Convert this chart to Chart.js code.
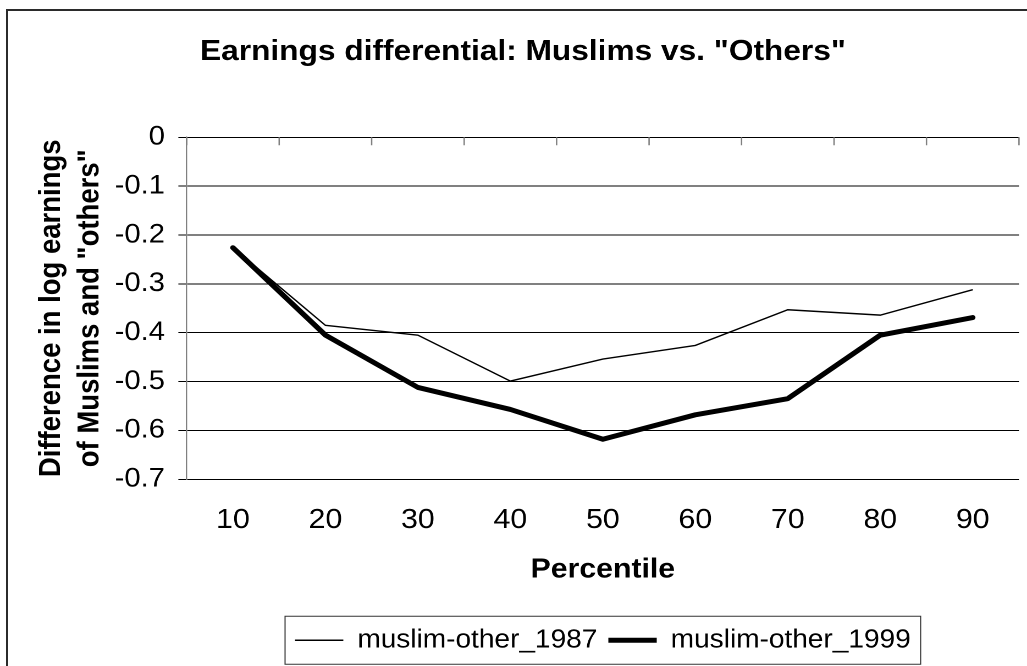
<!DOCTYPE html>
<html>
<head>
<meta charset="utf-8">
<script src="https://cdn.jsdelivr.net/npm/chart.js@4.4.1/dist/chart.umd.min.js"></script>
<style>
    html, body { margin: 0; padding: 0; background: #fff; overflow: hidden; }
    /* the original sheet is cut off on the right and at the bottom, only the top/left edge shows */
    #frame { position: absolute; left: 6px; top: 9px; width: 1100px; height: 700px;
             border-left: 2px solid #2b2b2b; border-top: 2px solid #2b2b2b; }
    #earnChart { position: absolute; left: 0; top: 0; }
</style>
</head>
<body>
<div id="frame"></div>
<!-- the reference is a bit wider than tall, so the canvas is drawn narrow and stretched -->
<canvas id="earnChart" width="934" height="666" style="width:1027px;height:666px"></canvas>
<script>
const percentiles = ['10', '20', '30', '40', '50', '60', '70', '80', '90'];
const muslimOther1987 = [-0.226, -0.385, -0.405, -0.499, -0.454, -0.426, -0.353, -0.364, -0.312];
const muslimOther1999 = [-0.226, -0.405, -0.512, -0.557, -0.618, -0.568, -0.535, -0.405, -0.369];
const yTicks = [0, -0.1, -0.2, -0.3, -0.4, -0.5, -0.6, -0.7];

const FONT = 'Arial, "Liberation Sans", sans-serif';

// Excel-style tick marks hanging down from the top axis, between categories
const topTicks = {
    id: 'topTicks',
    beforeDatasetsDraw(chart) {
        const { ctx, chartArea, scales: { x } } = chart;
        ctx.save();
        ctx.strokeStyle = '#808080';
        ctx.lineWidth = 1.3;
        for (let i = 0; i <= percentiles.length; i++) {
            const px = x.getPixelForValue(i - 0.5);
            ctx.beginPath();
            ctx.moveTo(px, chartArea.top);
            ctx.lineTo(px, chartArea.top + 8);
            ctx.stroke();
        }
        ctx.restore();
    }
};

// box around the legend
const legendFrame = {
    id: 'legendFrame',
    afterDraw(chart) {
        const boxes = chart.legend.legendHitBoxes;
        if (!boxes || !boxes.length) return;
        const ctx = chart.ctx;
        const left = Math.min(...boxes.map(b => b.left)) - 9;
        const right = Math.max(...boxes.map(b => b.left + b.width)) + 9;
        const mid = boxes[0].top + boxes[0].height / 2;
        ctx.save();
        ctx.strokeStyle = '#333';
        ctx.lineWidth = 1;
        ctx.strokeRect(left, mid - 24, right - left, 48);
        ctx.restore();
    }
};

new Chart(document.getElementById('earnChart'), {
    type: 'line',
    data: {
        labels: percentiles,
        datasets: [{
            label: 'muslim-other_1987',
            data: muslimOther1987,
            borderColor: '#000',
            backgroundColor: '#000',
            borderWidth: 1.4,
            pointRadius: 0,
            tension: 0,
            fill: false
        }, {
            label: 'muslim-other_1999',
            data: muslimOther1999,
            borderColor: '#000',
            backgroundColor: '#000',
            borderWidth: 5,
            borderCapStyle: 'round',
            borderJoinStyle: 'round',
            pointRadius: 0,
            tension: 0,
            fill: false
        }]
    },
    options: {
        responsive: false,
        devicePixelRatio: 2,
        animation: false,
        events: [],
        layout: { padding: { top: 10, left: 24.5, right: 7.3, bottom: 3.5 } },
        scales: {
            x: {
                offset: true,
                afterFit: s => { s.height = 138.2; },
                grid: { display: false },
                border: { display: false },
                ticks: { color: '#000', font: { family: FONT, size: 27.5 }, padding: 16.5, maxRotation: 0, autoSkip: false },
                title: {
                    display: true,
                    text: 'Percentile',
                    color: '#000',
                    font: { family: FONT, size: 27.5, weight: 'bold' },
                    padding: { top: 17.3, bottom: 31 }
                }
            },
            y: {
                min: -0.7,
                max: 0,
                afterBuildTicks: s => { s.ticks = yTicks.map(v => ({ value: v })); },
                afterFit: s => { s.width = 145.3; },
                grid: { color: '#000', lineWidth: 1, tickLength: 7.6, tickColor: '#000' },
                border: { color: '#808080', width: 1.2 },
                ticks: {
                    color: '#000',
                    font: { family: FONT, size: 26.5 },
                    padding: 12.2,
                    callback: v => String(v)
                },
                title: {
                    display: true,
                    text: ['Difference in log earnings', 'of Muslims and "others"'],
                    color: '#000',
                    font: { family: FONT, size: 27.5, weight: 'bold', lineHeight: 1.27 },
                    padding: { top: 4.8, bottom: 0 }
                }
            }
        },
        plugins: {
            title: {
                display: true,
                text: 'Earnings differential: Muslims vs. "Others"',
                color: '#000',
                font: { family: FONT, size: 28.8, weight: 'bold' },
                padding: { top: 25, bottom: 67.7 }
            },
            legend: {
                position: 'bottom',
                fullSize: false,
                maxHeight: 45,
                labels: {
                    usePointStyle: true,
                    pointStyle: 'line',
                    pointStyleWidth: 44,
                    color: '#000',
                    font: { family: FONT, size: 25.5 },
                    padding: 10
                }
            },
            tooltip: { enabled: false }
        }
    },
    plugins: [topTicks, legendFrame]
});
</script>
</body>
</html>
